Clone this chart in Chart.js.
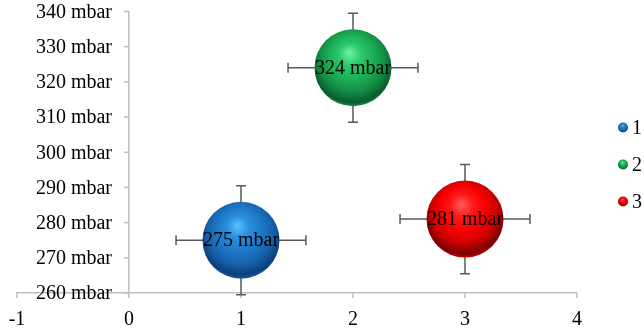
<!DOCTYPE html>
<html>
<head>
<meta charset="utf-8">
<script src="https://cdn.jsdelivr.net/npm/chart.js@4/dist/chart.umd.min.js"></script>
<style>
    html, body { margin: 0; padding: 0; background: #fff; }
    #wrap { width: 644px; height: 330px; position: relative; }
</style>
</head>
<body>
<div id="wrap"><canvas id="pressure-chart"></canvas></div>
<script>
// Values
const seriesLabels = ['1', '2', '3'];
const xValues = [1, 2, 3];
const yValues = [275, 324, 281];
const xErrors = [0.58, 0.58, 0.58];
const yErrors = [15.5, 15.5, 15.5];
const xTicks = [-1, 0, 1, 2, 3, 4];
const yTicks = [260, 270, 280, 290, 300, 310, 320, 330, 340];
const unit = 'mbar';

// sphere shading: highlight -> base -> dark rim
const sphereStops = [
    ['#58c4ff', '#2a8ee0', '#1e78c9', '#155fa8', '#0b3f78', '#1a5ea3'],
    ['#6ef5a8', '#2bc96b', '#1bb057', '#138a42', '#0a5a2a', '#139046'],
    ['#ff6060', '#ff1a1a', '#fa0000', '#c80000', '#780000', '#d00000']
];
const stopPos = [0, 0.25, 0.5, 0.75, 0.93, 1];

const FONT = "'Liberation Serif', 'Times New Roman', serif";
const FONT_SIZE = 20;
const BUBBLE_R = 38.5;

function sphereGradient(ctx, cx, cy, r, i) {
    if (!isFinite(cx) || !isFinite(cy)) return sphereStops[i][2];
    const g = ctx.createRadialGradient(cx - 0.1 * r, cy - 0.4 * r, 0, cx, cy - 0.15 * r, 1.15 * r);
    sphereStops[i].forEach((c, k) => g.addColorStop(stopPos[k], c));
    return g;
}

// y axis sits at x = 0, so its ticks and labels are drawn here from the scale
const yAxisLabels = {
    id: 'yAxisLabels',
    afterDraw(chart) {
        const {ctx, scales: {x, y}} = chart;
        const ax = x.getPixelForValue(0);
        ctx.save();
        ctx.strokeStyle = '#bfbfbf';
        ctx.lineWidth = 1.5;
        ctx.font = `${FONT_SIZE}px ${FONT}`;
        ctx.fillStyle = '#000';
        ctx.textAlign = 'right';
        ctx.textBaseline = 'middle';
        y.ticks.forEach(t => {
            const py = y.getPixelForValue(t.value);
            ctx.beginPath();
            ctx.moveTo(ax - 5, py); ctx.lineTo(ax, py);
            ctx.stroke();
            ctx.fillText(`${t.value} ${unit}`, ax - 17, py + 1);
        });
        ctx.restore();
    }
};

const errorBars = {
    id: 'errorBars',
    beforeDatasetsDraw(chart) {
        const {ctx, scales: {x, y}} = chart;
        ctx.save();
        ctx.strokeStyle = '#595959';
        ctx.lineWidth = 1.5;
        const cap = 5;
        chart.data.datasets.forEach(ds => {
            ds.data.forEach(p => {
                const px = x.getPixelForValue(p.x);
                const py = y.getPixelForValue(p.y);
                const x0 = x.getPixelForValue(p.x - ds.xErr);
                const x1 = x.getPixelForValue(p.x + ds.xErr);
                const y0 = y.getPixelForValue(p.y - ds.yErr);
                const y1 = y.getPixelForValue(p.y + ds.yErr);
                ctx.beginPath();
                ctx.moveTo(x0, py); ctx.lineTo(x1, py);
                ctx.moveTo(x0, py - cap); ctx.lineTo(x0, py + cap);
                ctx.moveTo(x1, py - cap); ctx.lineTo(x1, py + cap);
                ctx.moveTo(px, y0); ctx.lineTo(px, y1);
                ctx.moveTo(px - cap, y0); ctx.lineTo(px + cap, y0);
                ctx.moveTo(px - cap, y1); ctx.lineTo(px + cap, y1);
                ctx.stroke();
            });
        });
        ctx.restore();
    }
};

const bubbleLabels = {
    id: 'bubbleLabels',
    afterDatasetsDraw(chart) {
        const {ctx} = chart;
        ctx.save();
        ctx.font = `${FONT_SIZE}px ${FONT}`;
        ctx.fillStyle = '#000';
        ctx.textAlign = 'center';
        ctx.textBaseline = 'middle';
        chart.data.datasets.forEach((ds, i) => {
            chart.getDatasetMeta(i).data.forEach((el, j) => {
                ctx.fillText(`${ds.data[j].y} ${unit}`, el.x, el.y + 1);
            });
        });
        ctx.restore();
    }
};

// legend drawn by hand so the marker/text gap matches the original
const sphereLegend = {
    id: 'sphereLegend',
    afterDraw(chart) {
        const {ctx, chartArea} = chart;
        const n = chart.data.datasets.length;
        const gap = 37;
        const mx = chartArea.right + 46;
        const top = chart.height / 2 - (n - 1) * gap / 2 - 0.5;
        ctx.save();
        ctx.font = `${FONT_SIZE}px ${FONT}`;
        ctx.textAlign = 'left';
        ctx.textBaseline = 'middle';
        chart.data.datasets.forEach((ds, i) => {
            const my = top + i * gap;
            ctx.beginPath();
            ctx.arc(mx, my, 5, 0, Math.PI * 2);
            ctx.fillStyle = sphereGradient(ctx, mx, my, 5, i);
            ctx.fill();
            ctx.fillStyle = '#000';
            ctx.fillText(ds.label, mx + 9, my + 1);
        });
        ctx.restore();
    }
};

Chart.defaults.font.family = FONT;
Chart.defaults.font.size = FONT_SIZE;
Chart.defaults.color = '#000';

new Chart(document.getElementById('pressure-chart'), {
    type: 'bubble',
    data: {
        datasets: seriesLabels.map((label, i) => ({
            label,
            data: [{x: xValues[i], y: yValues[i]}],
            xErr: xErrors[i],
            yErr: yErrors[i],
            radius: BUBBLE_R,
            hoverRadius: 0,
            borderWidth: 0,
            backgroundColor: c => {
                const sx = c.chart.scales.x, sy = c.chart.scales.y;
                if (!sx || !sy || !c.raw) return sphereStops[i][2];
                return sphereGradient(c.chart.ctx, sx.getPixelForValue(c.raw.x), sy.getPixelForValue(c.raw.y), BUBBLE_R, i);
            }
        }))
    },
    options: {
        responsive: true,
        maintainAspectRatio: false,
        animation: false,
        events: [],
        layout: { autoPadding: false, padding: { left: 17, right: 67, top: 11.5, bottom: 0 } },
        plugins: {
            legend: { display: false },
            tooltip: { enabled: false }
        },
        scales: {
            x: {
                type: 'linear',
                position: 'bottom',
                min: -1, max: 4,
                afterBuildTicks: axis => { axis.ticks = xTicks.map(v => ({value: v})); },
                afterFit: axis => { axis.height = 37; axis.paddingLeft = 0; axis.paddingRight = 0; },
                ticks: { padding: 10, maxRotation: 0 },
                grid: { drawOnChartArea: false, drawTicks: true, tickLength: 5, color: '#bfbfbf', lineWidth: 1.5 },
                border: { color: '#bfbfbf', width: 1.5 }
            },
            y: {
                type: 'linear',
                position: { x: 0 },
                min: 260, max: 340,
                afterBuildTicks: axis => { axis.ticks = yTicks.map(v => ({value: v})); },
                ticks: { display: false },
                grid: { drawOnChartArea: false, drawTicks: false },
                border: { color: '#bfbfbf', width: 1.5 }
            }
        }
    },
    plugins: [errorBars, bubbleLabels, sphereLegend, yAxisLabels]
});
</script>
</body>
</html>
